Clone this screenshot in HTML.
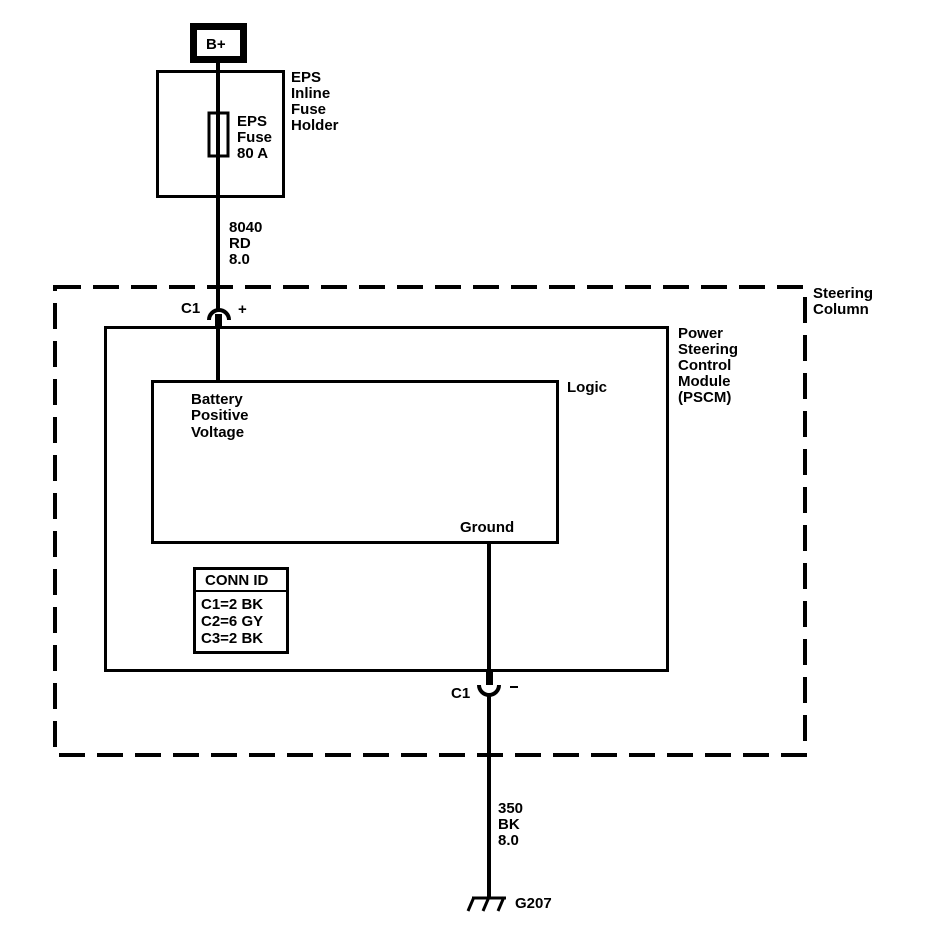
<!DOCTYPE html>
<html><head><meta charset="utf-8"><style>
html,body{margin:0;padding:0;background:#fff;}
svg text{font-family:"Liberation Sans",Arial,sans-serif;font-size:15px;font-weight:bold;fill:#000;}
</style></head><body>
<svg width="928" height="934" viewBox="0 0 928 934" xmlns="http://www.w3.org/2000/svg">
<rect x="0" y="0" width="928" height="934" fill="#fff"/>
<rect x="193.5" y="26.5" width="50" height="33" fill="none" stroke="#000" stroke-width="7"/>
<text x="206" y="49">B+</text>
<rect x="157.5" y="71.5" width="126" height="125" fill="none" stroke="#000" stroke-width="3"/>
<line x1="218" y1="60" x2="218" y2="312" stroke="#000" stroke-width="4"/>
<rect x="209" y="113" width="19" height="43" fill="#fff" stroke="#000" stroke-width="3"/>
<line x1="218" y1="113" x2="218" y2="156" stroke="#000" stroke-width="4"/>
<text x="237" y="126">EPS</text><text x="237" y="142">Fuse</text><text x="237" y="158">80 A</text>
<text x="291" y="82">EPS</text><text x="291" y="98">Inline</text><text x="291" y="114">Fuse</text><text x="291" y="130">Holder</text>
<text x="229" y="232">8040</text><text x="229" y="248">RD</text><text x="229" y="264">8.0</text>
<rect x="55" y="287" width="750" height="468" fill="none" stroke="#000" stroke-width="4" stroke-dasharray="26 12"/>
<text x="813" y="298">Steering</text><text x="813" y="314">Column</text>
<path d="M209 320 A10 10 0 0 1 229 320" fill="none" stroke="#000" stroke-width="4"/>
<rect x="215" y="314" width="7" height="14" fill="#000"/>
<text x="181" y="313">C1</text><text x="238" y="314">+</text>
<rect x="105.5" y="327.5" width="562" height="343" fill="none" stroke="#000" stroke-width="3"/>
<line x1="218" y1="327" x2="218" y2="381" stroke="#000" stroke-width="4"/>
<text x="678" y="338">Power</text><text x="678" y="354">Steering</text><text x="678" y="370">Control</text><text x="678" y="386">Module</text><text x="678" y="402">(PSCM)</text>
<rect x="152.5" y="381.5" width="405" height="161" fill="none" stroke="#000" stroke-width="3"/>
<text x="567" y="392">Logic</text>
<text x="191" y="404">Battery</text><text x="191" y="420">Positive</text><text x="191" y="437">Voltage</text>
<text x="460" y="532">Ground</text>
<line x1="489" y1="543" x2="489" y2="682" stroke="#000" stroke-width="4"/>
<rect x="486" y="669" width="7" height="16" fill="#000"/>
<path d="M479 685 A10 10 0 0 0 499 685" fill="none" stroke="#000" stroke-width="4"/>
<line x1="489" y1="695" x2="489" y2="898" stroke="#000" stroke-width="4"/>
<text x="451" y="698">C1</text>
<line x1="510" y1="687" x2="518" y2="687" stroke="#000" stroke-width="2"/>
<text x="498" y="813">350</text><text x="498" y="829">BK</text><text x="498" y="845">8.0</text>
<line x1="472" y1="898" x2="506" y2="898" stroke="#000" stroke-width="3"/>
<line x1="474" y1="897" x2="468" y2="911" stroke="#000" stroke-width="3"/>
<line x1="489" y1="897" x2="483" y2="911" stroke="#000" stroke-width="3"/>
<line x1="504" y1="897" x2="498" y2="911" stroke="#000" stroke-width="3"/>
<text x="515" y="908">G207</text>
<rect x="194.5" y="568.5" width="93" height="84" fill="none" stroke="#000" stroke-width="3"/>
<line x1="194" y1="591" x2="288" y2="591" stroke="#000" stroke-width="2"/>
<text x="205" y="585">CONN ID</text>
<text x="201" y="609">C1=2 BK</text><text x="201" y="626">C2=6 GY</text><text x="201" y="643">C3=2 BK</text>
</svg>
</body></html>
